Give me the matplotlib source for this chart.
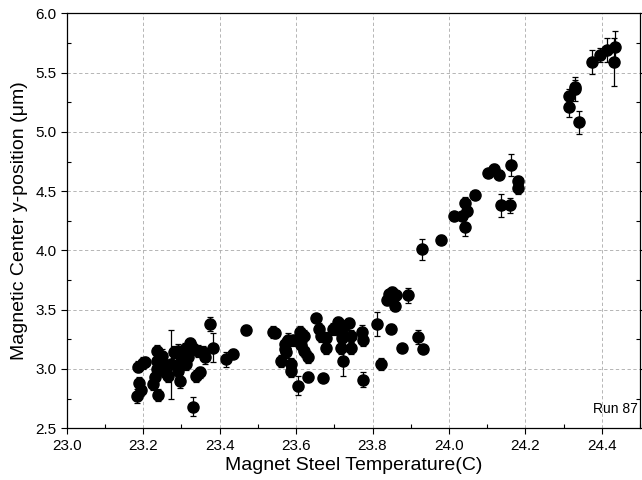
import numpy as np
import matplotlib
matplotlib.use('Agg')
import matplotlib.pyplot as plt
from matplotlib.ticker import MultipleLocator, FormatStrFormatter

plt.rcParams.update({
    'font.family': ['Liberation Sans', 'DejaVu Sans'],
    'font.size': 10,
    'figure.dpi': 100,
})

# temperature (C), centre y-position (um), error (um)
temp = [
    23.187, 23.188, 23.185, 23.194, 23.200, 23.204, 23.235, 23.226, 23.239, 23.237,
    23.235, 23.230, 23.248, 23.252, 23.255, 23.265, 23.272, 23.281, 23.290, 23.291,
    23.296, 23.300, 23.309, 23.313, 23.317, 23.322, 23.330, 23.329, 23.339, 23.348,
    23.343, 23.356, 23.361, 23.376, 23.382, 23.417, 23.435, 23.470,
    23.539, 23.544, 23.561, 23.570, 23.572, 23.578, 23.574, 23.587, 23.587, 23.591,
    23.604, 23.609, 23.613, 23.622, 23.622, 23.631, 23.631, 23.652, 23.661, 23.665,
    23.677, 23.679, 23.670, 23.696, 23.709, 23.718, 23.720, 23.718, 23.722, 23.739,
    23.744, 23.744, 23.726, 23.773, 23.774, 23.774, 23.812, 23.822, 23.837, 23.844,
    23.851, 23.861, 23.860, 23.848, 23.894, 23.877, 23.920, 23.933,
    23.929, 23.980, 24.012, 24.035, 24.041, 24.046, 24.041, 24.067, 24.103, 24.118,
    24.131, 24.135, 24.162, 24.160, 24.180, 24.180,
    24.313, 24.315, 24.329, 24.331, 24.339, 24.374, 24.396, 24.413, 24.434, 24.432,
]
ypos = [
    3.02, 2.88, 2.77, 2.82, 3.05, 3.06, 3.15, 2.87, 2.78, 3.07,
    3.00, 2.93, 3.11, 3.04, 2.98, 2.94, 3.04, 3.14, 3.15, 2.98,
    2.90, 3.07, 3.17, 3.04, 3.10, 3.22, 3.18, 2.68, 2.94, 2.97,
    3.15, 3.14, 3.10, 3.38, 3.18, 3.08, 3.13, 3.33,
    3.31, 3.30, 3.07, 3.17, 3.21, 3.24, 3.14, 3.04, 2.98, 3.24,
    2.86, 3.31, 3.20, 3.28, 3.15, 3.10, 2.93, 3.43, 3.34, 3.28,
    3.26, 3.18, 2.92, 3.34, 3.40, 3.31, 3.26, 3.18, 3.07, 3.39,
    3.28, 3.18, 3.36, 3.31, 3.24, 2.91, 3.38, 3.04, 3.58, 3.63,
    3.65, 3.62, 3.53, 3.34, 3.62, 3.18, 3.27, 3.17,
    4.01, 4.09, 4.29, 4.29, 4.40, 4.33, 4.20, 4.47, 4.65, 4.69,
    4.64, 4.38, 4.72, 4.38, 4.59, 4.53,
    5.21, 5.30, 5.38, 5.36, 5.08, 5.59, 5.65, 5.69, 5.72, 5.59,
]
yerr = [
    0.05, 0.05, 0.06, 0.05, 0.05, 0.04, 0.05, 0.05, 0.05, 0.05,
    0.05, 0.05, 0.06, 0.05, 0.05, 0.05, 0.29, 0.05, 0.06, 0.05,
    0.06, 0.05, 0.05, 0.05, 0.05, 0.04, 0.05, 0.08, 0.05, 0.05,
    0.05, 0.05, 0.06, 0.06, 0.12, 0.06, 0.04, 0.04,
    0.05, 0.04, 0.05, 0.05, 0.05, 0.06, 0.05, 0.05, 0.05, 0.05,
    0.08, 0.05, 0.05, 0.05, 0.05, 0.05, 0.04, 0.03, 0.05, 0.05,
    0.05, 0.05, 0.02, 0.05, 0.04, 0.05, 0.05, 0.05, 0.13, 0.04,
    0.05, 0.05, 0.04, 0.06, 0.05, 0.06, 0.10, 0.05, 0.04, 0.04,
    0.04, 0.04, 0.04, 0.04, 0.06, 0.02, 0.06, 0.02,
    0.09, 0.04, 0.03, 0.03, 0.05, 0.04, 0.08, 0.04, 0.03, 0.04,
    0.04, 0.10, 0.09, 0.06, 0.04, 0.05,
    0.08, 0.06, 0.06, 0.10, 0.10, 0.10, 0.06, 0.10, 0.13, 0.20,
]

fig = plt.figure(figsize=(6.42, 4.8))
ax = fig.add_axes([0.104, 0.108, 0.893, 0.864])

ax.errorbar(temp, ypos, yerr=yerr, fmt='o', color='black', markersize=8,
            ecolor='black', elinewidth=0.9, capsize=2.5, capthick=0.9, zorder=3)

ax.set_xlim(23.0, 24.5)
ax.set_ylim(2.5, 6.0)
ax.xaxis.set_major_locator(MultipleLocator(0.2))
ax.xaxis.set_minor_locator(MultipleLocator(0.1))
ax.yaxis.set_major_locator(MultipleLocator(0.5))
ax.yaxis.set_minor_locator(MultipleLocator(0.25))
ax.xaxis.set_major_formatter(FormatStrFormatter('%.1f'))
ax.yaxis.set_major_formatter(FormatStrFormatter('%.1f'))

# light, finely dashed grid at the major ticks
ax.grid(True, which='major', linestyle=(0, (4, 3)), color='#aaaaaa', linewidth=0.6)
ax.tick_params(which='major', direction='out', length=4, labelsize=11, width=0.8)
ax.tick_params(which='minor', direction='in', length=3, width=0.8)
ax.tick_params(axis='y', which='both', right=True)
for s in ax.spines.values():
    s.set_linewidth(0.9)

ax.set_xlabel('Magnet Steel Temperature(C)', fontsize=14, labelpad=3)
ax.set_ylabel('Magnetic Center y-position (\u03bcm)', fontsize=14, labelpad=5)

ax.text(0.997, 0.03, 'Run 87', transform=ax.transAxes, ha='right', va='bottom',
        fontsize=10)

fig.savefig('out.png', dpi=100)
